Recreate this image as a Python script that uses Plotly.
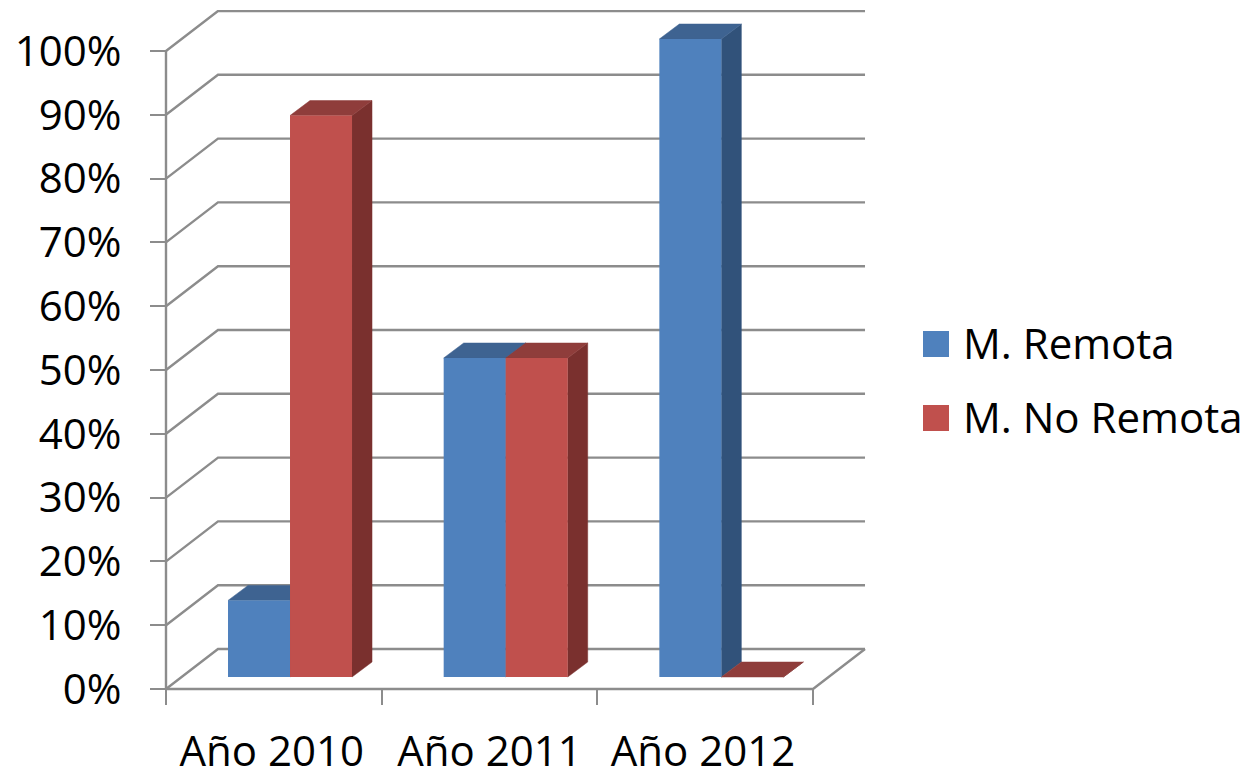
import plotly.graph_objects as go

# ---- data ----
categories = ["Año 2010", "Año 2011", "Año 2012"]
remota = [12, 50, 100]
no_remota = [88, 50, 0]
series_names = ["M. Remota", "M. No Remota"]
y_ticks = [0, 10, 20, 30, 40, 50, 60, 70, 80, 90, 100]

# ---- style ----
BLUE, BLUE_TOP, BLUE_SIDE = "#4F81BD", "#3E6391", "#31527A"
RED, RED_TOP, RED_SIDE = "#C0504D", "#8F3D3B", "#7A302E"
GRID = "#8C8C8C"
FONT = "Open Sans"
FS = 42
W, H = 1249, 770

# pixel geometry of the projection
PX_X0, PX_Y0 = 166, 689
UX, UY = 215.67, 6.38
L, R, T, B = 145, 870, 10, 702
xr = [(L - PX_X0) / UX, (R - PX_X0) / UX]
yr = [(PX_Y0 - B) / UY, (PX_Y0 - T) / UY]
WALL_DX, WALL_DY = 52 / UX, 40 / UY     # depth of the walls
BAR_DX, BAR_DY = 20 / UX, 15 / UY       # depth of a bar
BASE = 12 / UY                          # bars stand a little behind the front edge
GROUP_C = [0.575, 1.575, 2.575]
BAR_W = 0.2875
NCAT = len(categories)

fig = go.Figure()

def line(xs, ys):
    fig.add_trace(go.Scatter(x=xs, y=ys, mode="lines", showlegend=False, hoverinfo="skip",
                             line=dict(color=GRID, width=2.4)))

def poly(xs, ys, color):
    fig.add_trace(go.Scatter(x=xs, y=ys, mode="lines", fill="toself", fillcolor=color,
                             line=dict(color=color, width=0.5), showlegend=False, hoverinfo="skip"))

# walls and floor
for v in y_ticks:
    line([0, WALL_DX, NCAT + WALL_DX], [v, v + WALL_DY, v + WALL_DY])
line([0, 0], [0, 100])
line([0, NCAT, NCAT + WALL_DX], [0, 0, WALL_DY])

# top and side faces of the bars
for vals, offs, top_c, side_c in [(remota, -BAR_W, BLUE_TOP, BLUE_SIDE),
                                  (no_remota, 0, RED_TOP, RED_SIDE)]:
    for c, v in zip(GROUP_C, vals):
        x0 = c + offs
        x1 = x0 + BAR_W
        t = BASE + v
        poly([x1, x1 + BAR_DX, x1 + BAR_DX, x1, x1], [BASE, BASE + BAR_DY, t + BAR_DY, t, BASE], side_c)
        poly([x0, x0 + BAR_DX, x1 + BAR_DX, x1, x0], [t, t + BAR_DY, t + BAR_DY, t, t], top_c)

# front faces, on an overlay so they sit above the walls and depth faces
for name, vals, color in [(series_names[0], remota, BLUE), (series_names[1], no_remota, RED)]:
    fig.add_trace(go.Bar(x=GROUP_C, y=vals, base=BASE, name=name, marker=dict(color=color, line=dict(width=0)),
                         xaxis="x2", yaxis="y2", showlegend=False))

# legend, with swatches the size of the reference's
def px(x):
    return (x - L) / (R - L)

def py(y):
    return (B - y) / (B - T)

shapes, annots = [], []
for name, color, cy in zip(series_names, [BLUE, RED], [344, 418]):
    shapes.append(dict(type="rect", xref="paper", yref="paper", x0=px(923), x1=px(949),
                       y0=py(cy + 13), y1=py(cy - 13), fillcolor=color, line=dict(width=0)))
    annots.append(dict(text=name, xref="paper", yref="paper", x=px(961), y=py(cy - 2), xanchor="left",
                       yanchor="middle", showarrow=False, font=dict(family=FONT, size=FS, color="#000000")))

fig.update_layout(
    width=W, height=H,
    margin=dict(l=L, r=W - R, t=T, b=H - B, pad=0, autoexpand=False),
    paper_bgcolor="#FFFFFF", plot_bgcolor="#FFFFFF",
    barmode="group", bargap=1 - 2 * BAR_W, bargroupgap=0,
    showlegend=False, shapes=shapes, annotations=annots,
    font=dict(family=FONT, size=FS, color="#000000"),
    xaxis=dict(range=xr, anchor="free", position=(B - PX_Y0) / (B - T), showgrid=False, zeroline=False,
               showline=False, tickmode="array", tickvals=[0.49, 1.5, 2.49], ticktext=categories,
               ticks="", ticklabelstandoff=34, tickfont=dict(family=FONT, size=FS, color="#000000"),
               minor=dict(tickmode="array", tickvals=[0, 1, 2, 3], ticks="outside", ticklen=15,
                          tickwidth=2.4, tickcolor=GRID, showgrid=False)),
    yaxis=dict(range=yr, anchor="free", position=(PX_X0 - L) / (R - L), showgrid=False, zeroline=False,
               showline=False, tickmode="array", tickvals=y_ticks, ticktext=[f"{v}%" for v in y_ticks],
               ticks="outside", ticklen=16, tickwidth=2.4, tickcolor=GRID, ticklabelstandoff=20,
               tickfont=dict(family=FONT, size=FS, color="#000000")),
    xaxis2=dict(range=xr, overlaying="x", visible=False),
    yaxis2=dict(range=yr, overlaying="y", visible=False),
)

fig.write_html("out.html", config={"displayModeBar": False},
               post_script="document.body.style.margin='0';document.documentElement.style.overflow='hidden';")
